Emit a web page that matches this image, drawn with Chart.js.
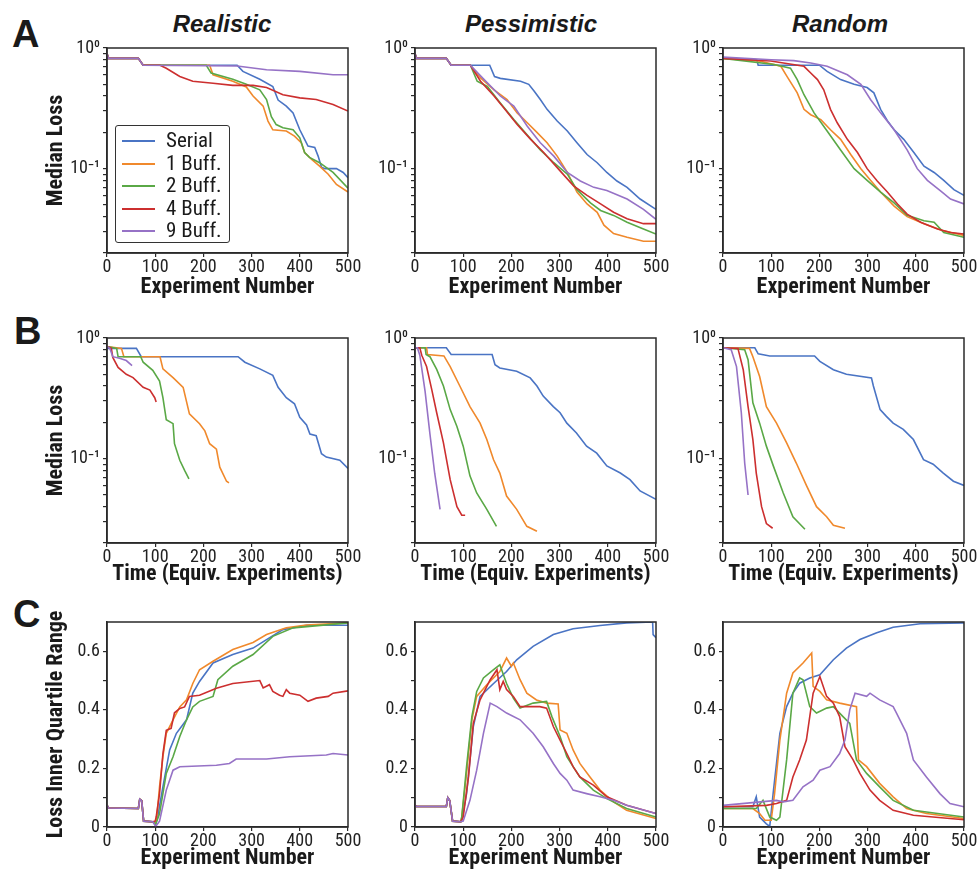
<!DOCTYPE html>
<html>
<head>
<meta charset="utf-8">
<script src="https://cdn.jsdelivr.net/npm/chart.js@4.4.1/dist/chart.umd.min.js"></script>
<style>
  body { margin: 0; width: 979px; height: 874px; background: #fff; position: relative; overflow: hidden; }
  .letter { position: absolute; font: bold 38px/1 "Liberation Sans", Arial, sans-serif; color: #1a1a1a; }
  .coltitle { position: absolute; width: 200px; text-align: center; font: italic bold 24px/1 "Liberation Sans", Arial, sans-serif; color: #1a1a1a; }
  .legend { position: absolute; left: 115px; top: 125px; width: 113px; height: 116px; border: 1.5px solid #333; border-radius: 3px; background: #fff; z-index: 5; }
  .legend .row { position: absolute; left: 0; height: 22px; }
  .legend .swatch { position: absolute; left: 6px; top: 11px; width: 33px; height: 2px; }
  .legend .txt { position: absolute; left: 50px; top: 0; line-height: 22px; font-size: 21px; white-space: nowrap; color: #1a1a1a;
                 font-family: "Roboto Condensed", Roboto, sans-serif; }
</style>
</head>
<body>

<div class="letter" style="left:12px;top:15px">A</div>
<div class="letter" style="left:14px;top:312px">B</div>
<div class="letter" style="left:13px;top:595px">C</div>

<div class="coltitle" style="left:122px;top:12px">Realistic</div>
<div class="coltitle" style="left:431px;top:12px">Pessimistic</div>
<div class="coltitle" style="left:740px;top:12px">Random</div>

<div class="legend" id="legend"></div>

<script>
// ── Series / axes ─────────────────────────────
const names  = ['Serial', '1 Buff.', '2 Buff.', '4 Buff.', '9 Buff.'];
const colors = ['#4a74c4', '#f0892c', '#5aa846', '#cc2f2f', '#9672c6'];

const xTicks   = [0, 100, 200, 300, 400, 500];
const logTicks = [0.02, 0.03, 0.04, 0.05, 0.06, 0.07, 0.08, 0.09, 0.1, 0.2, 0.3, 0.4, 0.5, 0.6, 0.7, 0.8, 0.9, 1];
const logLabels = { '1': '10⁰', '0.1': '10⁻¹' };
const iqrTicks  = [0, 0.1, 0.2, 0.3, 0.4, 0.5, 0.6];
const iqrLabels = { '0': '0', '0.2': '0.2', '0.4': '0.4', '0.6': '0.6' };

// ── A: median loss vs experiment number ───────
const aStart = [[0, 0.9], [3, 0.82], [65, 0.82], [75, 0.72]];

const aRealSerial = [...aStart, [270, 0.72], [282, 0.64], [317, 0.55], [344, 0.48], [355, 0.37], [372, 0.33], [386, 0.29], [400, 0.21], [410, 0.175], [417, 0.154], [431, 0.15], [438, 0.127], [445, 0.103], [452, 0.1], [476, 0.1], [490, 0.093], [500, 0.084]];
const aRealB1 = [...aStart, [213, 0.72], [220, 0.60], [261, 0.53], [289, 0.476], [303, 0.40], [324, 0.33], [334, 0.248], [344, 0.21], [372, 0.205], [389, 0.186], [403, 0.164], [410, 0.136], [424, 0.12], [441, 0.105], [459, 0.09], [476, 0.074], [500, 0.064]];
const aRealB2 = [...aStart, [206, 0.72], [216, 0.62], [261, 0.55], [289, 0.5], [317, 0.45], [331, 0.374], [341, 0.27], [351, 0.232], [365, 0.218], [386, 0.21], [400, 0.18], [410, 0.136], [420, 0.124], [441, 0.112], [469, 0.093], [500, 0.069]];
const aRealB4 = [...aStart, [110, 0.72], [123, 0.68], [151, 0.58], [178, 0.53], [220, 0.51], [261, 0.49], [303, 0.49], [331, 0.47], [365, 0.41], [400, 0.386], [434, 0.374], [469, 0.34], [500, 0.30]];
const aRealB9 = [...aStart, [270, 0.71], [331, 0.66], [400, 0.64], [469, 0.60], [500, 0.60]];

const aPessSerial = [...aStart, [155, 0.72], [165, 0.58], [177, 0.56], [219, 0.53], [236, 0.5], [247, 0.44], [260, 0.374], [274, 0.31], [295, 0.248], [316, 0.205], [336, 0.164], [357, 0.131], [378, 0.112], [398, 0.093], [419, 0.079], [440, 0.07], [467, 0.056], [500, 0.046]];
const aPessB1 = [...aStart, [115, 0.72], [136, 0.565], [164, 0.45], [191, 0.374], [212, 0.29], [233, 0.24], [253, 0.20], [274, 0.164], [295, 0.127], [316, 0.093], [336, 0.064], [357, 0.051], [378, 0.0435], [392, 0.034], [412, 0.029], [440, 0.027], [474, 0.025], [500, 0.025]];
const aPessB2 = [...aStart, [115, 0.72], [129, 0.53], [150, 0.48], [177, 0.35], [205, 0.255], [233, 0.19], [260, 0.143], [288, 0.112], [316, 0.09], [336, 0.067], [364, 0.052], [385, 0.045], [412, 0.041], [440, 0.036], [474, 0.0316], [500, 0.0287]];
const aPessB4 = [...aStart, [115, 0.72], [136, 0.53], [164, 0.40], [184, 0.32], [212, 0.232], [240, 0.175], [267, 0.136], [302, 0.095], [329, 0.072], [357, 0.06], [385, 0.051], [412, 0.0435], [440, 0.0384], [474, 0.035], [500, 0.035]];
const aPessB9 = [...aStart, [115, 0.72], [143, 0.55], [177, 0.4], [205, 0.33], [233, 0.225], [260, 0.164], [288, 0.127], [316, 0.093], [343, 0.079], [371, 0.07], [398, 0.066], [440, 0.056], [474, 0.046], [500, 0.038]];

const aRandSerial = [[0, 0.82], [70, 0.80], [73, 0.72], [200, 0.72], [216, 0.64], [244, 0.547], [272, 0.5], [299, 0.47], [313, 0.425], [327, 0.31], [341, 0.25], [355, 0.21], [375, 0.175], [396, 0.136], [417, 0.105], [438, 0.093], [458, 0.08], [479, 0.067], [500, 0.06]];
const aRandB1 = [[0, 0.82], [78, 0.776], [120, 0.705], [133, 0.58], [154, 0.425], [168, 0.31], [182, 0.28], [203, 0.255], [223, 0.21], [244, 0.175], [265, 0.131], [286, 0.1], [306, 0.08], [327, 0.064], [355, 0.049], [382, 0.04], [417, 0.035], [458, 0.0305], [500, 0.028]];
const aRandB2 = [[0, 0.82], [106, 0.73], [140, 0.68], [154, 0.547], [168, 0.41], [189, 0.29], [216, 0.205], [244, 0.143], [272, 0.1], [299, 0.08], [327, 0.064], [355, 0.052], [382, 0.041], [417, 0.037], [438, 0.036], [458, 0.0296], [500, 0.027]];
const aRandB4 = [[0, 0.82], [99, 0.78], [168, 0.705], [182, 0.62], [196, 0.547], [209, 0.45], [223, 0.31], [237, 0.24], [258, 0.175], [279, 0.136], [299, 0.1], [320, 0.079], [341, 0.064], [362, 0.051], [382, 0.042], [410, 0.036], [445, 0.0316], [472, 0.0296], [500, 0.0287]];
const aRandB9 = [[0, 0.84], [100, 0.80], [147, 0.786], [182, 0.75], [216, 0.705], [258, 0.60], [286, 0.5], [306, 0.374], [327, 0.29], [355, 0.21], [382, 0.143], [403, 0.1], [424, 0.08], [452, 0.065], [472, 0.056], [500, 0.051]];

// ── B: median loss vs time ────────────────────
const bRealSerial = [[0, 0.82], [61, 0.82], [71, 0.70], [272, 0.70], [286, 0.63], [317, 0.555], [344, 0.49], [355, 0.39], [372, 0.32], [389, 0.285], [400, 0.22], [414, 0.19], [421, 0.16], [434, 0.155], [445, 0.11], [455, 0.103], [483, 0.097], [500, 0.083]];
const bRealB1 = [[0, 0.85], [30, 0.82], [35, 0.70], [110, 0.70], [116, 0.555], [137, 0.47], [158, 0.39], [171, 0.235], [192, 0.195], [203, 0.17], [213, 0.133], [227, 0.12], [234, 0.085], [248, 0.065], [253, 0.063]];
const bRealB2 = [[0, 0.85], [20, 0.82], [23, 0.70], [70, 0.70], [75, 0.63], [95, 0.54], [109, 0.44], [116, 0.32], [123, 0.21], [137, 0.195], [140, 0.133], [151, 0.097], [161, 0.08], [170, 0.068]];
const bRealB4 = [[0, 0.85], [9, 0.82], [12, 0.69], [23, 0.57], [40, 0.5], [54, 0.47], [75, 0.39], [89, 0.37], [99, 0.32], [102, 0.295]];
const bRealB9 = [[0, 0.85], [6, 0.82], [12, 0.70], [26, 0.68], [40, 0.65], [52, 0.59]];

const bPessSerial = [[0, 0.83], [65, 0.83], [75, 0.73], [160, 0.73], [166, 0.60], [176, 0.565], [211, 0.53], [239, 0.467], [253, 0.40], [266, 0.33], [287, 0.27], [301, 0.24], [315, 0.197], [335, 0.163], [356, 0.127], [377, 0.111], [398, 0.087], [426, 0.076], [446, 0.067], [467, 0.054], [500, 0.046]];
const bPessB1 = [[0, 0.83], [24, 0.83], [26, 0.73], [60, 0.71], [73, 0.58], [93, 0.40], [114, 0.27], [135, 0.197], [149, 0.144], [163, 0.098], [176, 0.076], [190, 0.049], [211, 0.038], [232, 0.0275], [253, 0.025]];
const bPessB2 = [[0, 0.83], [21, 0.83], [23, 0.73], [31, 0.70], [45, 0.55], [59, 0.40], [73, 0.255], [87, 0.185], [100, 0.127], [114, 0.072], [128, 0.052], [149, 0.038], [169, 0.0275]];
const bPessB4 = [[0, 0.83], [10, 0.83], [14, 0.72], [24, 0.58], [35, 0.37], [45, 0.24], [59, 0.135], [73, 0.067], [87, 0.04], [97, 0.034], [104, 0.034]];
const bPessB9 = [[0, 0.83], [5, 0.83], [10, 0.72], [21, 0.36], [31, 0.16], [41, 0.075], [52, 0.038]];

const bRandSerial = [[0, 0.83], [66, 0.83], [73, 0.74], [97, 0.71], [190, 0.71], [201, 0.64], [229, 0.546], [256, 0.5], [308, 0.467], [312, 0.40], [326, 0.255], [339, 0.224], [353, 0.197], [374, 0.175], [395, 0.144], [416, 0.098], [436, 0.09], [457, 0.076], [478, 0.065], [500, 0.06]];
const bRandB1 = [[0, 0.83], [55, 0.82], [62, 0.70], [76, 0.48], [90, 0.27], [111, 0.197], [132, 0.135], [152, 0.092], [173, 0.06], [194, 0.04], [215, 0.033], [229, 0.028], [253, 0.0265]];
const bRandB2 = [[0, 0.83], [45, 0.80], [52, 0.66], [62, 0.29], [76, 0.197], [90, 0.127], [104, 0.088], [125, 0.052], [145, 0.033], [170, 0.026]];
const bRandB4 = [[0, 0.83], [31, 0.82], [42, 0.546], [52, 0.27], [62, 0.144], [69, 0.076], [80, 0.04], [90, 0.029], [103, 0.0265]];
const bRandB9 = [[0, 0.83], [17, 0.80], [28, 0.58], [38, 0.24], [45, 0.092], [52, 0.05]];

// ── C: loss inner quartile range ──────────────
const cRealStart = [[0, 0.075], [3, 0.065], [65, 0.063], [68, 0.095], [72, 0.09], [76, 0.02], [95, 0.018]];
const cRealSerial = [...cRealStart, [101, 0.01], [105, 0.034], [116, 0.137], [130, 0.263], [144, 0.32], [165, 0.366], [178, 0.457], [192, 0.497], [220, 0.56], [261, 0.589], [303, 0.611], [331, 0.64], [365, 0.674], [414, 0.689], [500, 0.689]];
const cRealB1 = [...cRealStart, [101, 0.01], [104, 0.045], [109, 0.137], [116, 0.24], [123, 0.32], [137, 0.366], [151, 0.41], [165, 0.434], [178, 0.49], [192, 0.537], [220, 0.566], [261, 0.606], [303, 0.63], [331, 0.657], [372, 0.68], [414, 0.69], [500, 0.697]];
const cRealB2 = [...cRealStart, [101, 0.01], [109, 0.045], [123, 0.183], [137, 0.24], [151, 0.309], [165, 0.366], [178, 0.41], [192, 0.429], [220, 0.446], [230, 0.503], [261, 0.549], [303, 0.589], [344, 0.651], [386, 0.68], [500, 0.697]];
const cRealB4 = [...cRealStart, [100, 0.02], [102, 0.034], [109, 0.114], [116, 0.25], [123, 0.33], [133, 0.337], [140, 0.39], [151, 0.405], [161, 0.41], [171, 0.446], [192, 0.45], [227, 0.474], [261, 0.49], [317, 0.5], [324, 0.475], [337, 0.486], [344, 0.463], [358, 0.45], [365, 0.446], [372, 0.469], [379, 0.457], [400, 0.45], [417, 0.429], [434, 0.44], [459, 0.446], [469, 0.457], [500, 0.465]];
const cRealB9 = [...cRealStart, [101, 0.002], [109, 0.02], [123, 0.126], [137, 0.194], [151, 0.206], [227, 0.211], [254, 0.217], [268, 0.232], [331, 0.232], [379, 0.24], [455, 0.246], [469, 0.251], [500, 0.246]];

const cPessStart = [[0, 0.075], [3, 0.07], [65, 0.07], [68, 0.1], [72, 0.09], [78, 0.02], [95, 0.018]];
const cPessSerial = [...cPessStart, [97, 0.023], [107, 0.114], [121, 0.343], [135, 0.446], [163, 0.49], [190, 0.531], [211, 0.571], [245, 0.617], [287, 0.657], [328, 0.677], [384, 0.688], [439, 0.697], [493, 0.7], [494, 0.657], [500, 0.646]];
const cPessB1 = [...cPessStart, [97, 0.034], [107, 0.183], [118, 0.366], [128, 0.446], [149, 0.486], [176, 0.531], [190, 0.577], [200, 0.549], [204, 0.56], [218, 0.503], [232, 0.457], [252, 0.434], [273, 0.423], [297, 0.42], [301, 0.331], [315, 0.32], [328, 0.263], [342, 0.217], [363, 0.171], [384, 0.126], [412, 0.086], [439, 0.057], [500, 0.029]];
const cPessB2 = [...cPessStart, [97, 0.034], [107, 0.206], [118, 0.377], [128, 0.463], [142, 0.509], [163, 0.537], [176, 0.554], [190, 0.49], [204, 0.44], [218, 0.406], [245, 0.423], [273, 0.429], [284, 0.377], [301, 0.309], [315, 0.24], [328, 0.206], [342, 0.171], [370, 0.126], [398, 0.097], [439, 0.063], [500, 0.034]];
const cPessB4 = [...cPessStart, [100, 0.034], [111, 0.171], [121, 0.354], [135, 0.434], [156, 0.503], [170, 0.537], [176, 0.469], [183, 0.497], [190, 0.469], [204, 0.446], [218, 0.411], [259, 0.411], [273, 0.406], [287, 0.343], [301, 0.297], [315, 0.251], [328, 0.206], [342, 0.171], [370, 0.143], [398, 0.103], [439, 0.074], [500, 0.046]];
const cPessB9 = [...cPessStart, [100, 0.02], [114, 0.091], [128, 0.194], [142, 0.32], [156, 0.423], [170, 0.411], [190, 0.389], [218, 0.366], [245, 0.32], [266, 0.274], [287, 0.217], [301, 0.183], [315, 0.16], [328, 0.126], [356, 0.114], [384, 0.103], [412, 0.091], [439, 0.074], [500, 0.046]];

const cRandSerial = [[0, 0.069], [62, 0.069], [69, 0.103], [76, 0.034], [90, 0.011], [97, 0.002], [104, 0.114], [118, 0.32], [132, 0.411], [145, 0.457], [159, 0.491], [180, 0.509], [201, 0.52], [229, 0.571], [256, 0.611], [284, 0.64], [319, 0.663], [353, 0.682], [409, 0.694], [500, 0.697]];
const cRandB1 = [[0, 0.063], [62, 0.063], [76, 0.046], [87, 0.023], [100, 0.023], [107, 0.114], [118, 0.297], [132, 0.457], [145, 0.526], [166, 0.56], [184, 0.594], [187, 0.48], [201, 0.463], [215, 0.434], [242, 0.423], [277, 0.411], [281, 0.229], [298, 0.206], [325, 0.149], [353, 0.103], [381, 0.063], [422, 0.046], [500, 0.029]];
const cRandB2 = [[0, 0.063], [69, 0.063], [83, 0.091], [97, 0.034], [111, 0.023], [118, 0.034], [132, 0.229], [145, 0.457], [159, 0.509], [166, 0.503], [180, 0.411], [194, 0.389], [215, 0.406], [229, 0.411], [249, 0.377], [263, 0.354], [277, 0.229], [298, 0.183], [325, 0.137], [353, 0.091], [395, 0.057], [500, 0.034]];
const cRandB4 = [[0, 0.069], [90, 0.074], [111, 0.08], [132, 0.091], [145, 0.171], [159, 0.229], [173, 0.297], [187, 0.457], [201, 0.514], [215, 0.446], [229, 0.423], [242, 0.377], [253, 0.274], [270, 0.229], [284, 0.183], [305, 0.126], [325, 0.091], [353, 0.057], [395, 0.04], [500, 0.025]];
const cRandB9 = [[0, 0.074], [111, 0.091], [125, 0.086], [145, 0.091], [166, 0.137], [187, 0.16], [201, 0.194], [222, 0.206], [242, 0.251], [253, 0.297], [263, 0.4], [274, 0.457], [298, 0.446], [305, 0.457], [325, 0.434], [353, 0.411], [360, 0.389], [381, 0.32], [395, 0.229], [422, 0.171], [450, 0.114], [471, 0.08], [500, 0.069]];

const panels = [
  [[aRealSerial, aRealB1, aRealB2, aRealB4, aRealB9], [aPessSerial, aPessB1, aPessB2, aPessB4, aPessB9], [aRandSerial, aRandB1, aRandB2, aRandB4, aRandB9]],
  [[bRealSerial, bRealB1, bRealB2, bRealB4, bRealB9], [bPessSerial, bPessB1, bPessB2, bPessB4, bPessB9], [bRandSerial, bRandB1, bRandB2, bRandB4, bRandB9]],
  [[cRealSerial, cRealB1, cRealB2, cRealB4, cRealB9], [cPessSerial, cPessB1, cPessB2, cPessB4, cPessB9], [cRandSerial, cRandB1, cRandB2, cRandB4, cRandB9]],
];

// ── Layout ────────────────────────────────────
const NARROW = '"Roboto Condensed", Roboto, sans-serif';
const AXIS = '#2a2a2a';
const cols = [{ L: 107, R: 348 }, { L: 415, R: 656 }, { L: 723, R: 964 }];
const rows = [{ T: 48, B: 253 }, { T: 338, B: 543 }, { T: 622, B: 827 }];
const xTitles = ['Experiment Number', 'Time (Equiv. Experiments)', 'Experiment Number'];
const yTitles = ['Median Loss', 'Median Loss', 'Loss Inner Quartile Range'];
const xTitlePad = [2, 5, 5];

const framePlugin = {
  id: 'frame',
  afterDraw(chart) {
    const { ctx, chartArea: a } = chart;
    ctx.save();
    ctx.strokeStyle = AXIS;
    ctx.lineWidth = 1.5;
    ctx.strokeRect(a.left, a.top, a.right - a.left, a.bottom - a.top);
    ctx.restore();
  }
};

function makePanel(r, c) {
  const { L, R } = cols[c];
  const { T, B } = rows[r];
  const padL = c === 0 ? 67 : 50, padR = 18, padT = 14, padB = 50;
  const cv = document.createElement('canvas');
  cv.width = R - L + padL + padR;
  cv.height = B - T + padT + padB;
  cv.style.cssText = `position:absolute;left:${L - padL}px;top:${T - padT}px;width:${cv.width}px;height:${cv.height}px`;
  document.body.appendChild(cv);

  const isLog = r < 2;
  const tickFont = { family: NARROW, size: 18 };
  const titleFont = { family: NARROW, size: 22, weight: 'bold' };

  new Chart(cv, {
    type: 'line',
    data: {
      datasets: panels[r][c].map((pts, i) => ({
        label: names[i],
        data: pts.map(([x, y]) => ({ x, y })),
        borderColor: colors[i],
        borderWidth: 1.6,
        pointRadius: 0,
        fill: false,
        tension: 0,
        order: names.length - 1 - i,
      }))
    },
    options: {
      responsive: false,
      animation: false,
      devicePixelRatio: 1,
      layout: { padding: { top: padT, right: padR, left: 0, bottom: 0 } },
      plugins: { legend: { display: false }, tooltip: { enabled: false } },
      scales: {
        x: {
          type: 'linear', min: 0, max: 500,
          afterBuildTicks(s) { s.ticks = xTicks.map(v => ({ value: v })); },
          afterFit(s) { s.height = padB; },
          ticks: { font: tickFont, color: '#222', padding: 0, maxRotation: 0, minRotation: 0, autoSkip: false },
          grid: { drawOnChartArea: false, drawTicks: true, tickLength: 4, color: AXIS, lineWidth: 1.2 },
          border: { display: true, color: AXIS, width: 1.5 },
          title: { display: true, text: xTitles[r], font: titleFont, color: '#1a1a1a', padding: { top: 0, bottom: xTitlePad[r] } },
        },
        y: {
          type: isLog ? 'logarithmic' : 'linear',
          min: isLog ? 0.02 : 0,
          max: isLog ? 1 : 0.7,
          afterBuildTicks(s) { s.ticks = (isLog ? logTicks : iqrTicks).map(v => ({ value: v })); },
          afterFit(s) { s.width = padL; },
          ticks: {
            font: tickFont, color: '#222', padding: 3, autoSkip: false,
            callback: (v) => {
              const key = String(Math.round(v * 1000) / 1000);
              return (isLog ? logLabels : iqrLabels)[key] || '';
            }
          },
          grid: { drawOnChartArea: false, drawTicks: true, tickLength: 4, color: AXIS, lineWidth: 1.2 },
          border: { display: true, color: AXIS, width: 1.5 },
          title: { display: c === 0, text: yTitles[r], font: titleFont, color: '#1a1a1a', padding: { top: 3, bottom: 0 } },
        }
      }
    },
    plugins: [framePlugin]
  });
}

for (let r = 0; r < 3; r++) {
  for (let c = 0; c < 3; c++) makePanel(r, c);
}

// ── Legend (panel A, Realistic) ───────────────
const legend = document.getElementById('legend');
names.forEach((n, i) => {
  const row = document.createElement('div');
  row.className = 'row';
  row.style.top = (3 + i * 22.6) + 'px';
  row.innerHTML = `<div class="swatch" style="background:${colors[i]}"></div><div class="txt">${n}</div>`;
  legend.appendChild(row);
});
</script>
</body>
</html>
